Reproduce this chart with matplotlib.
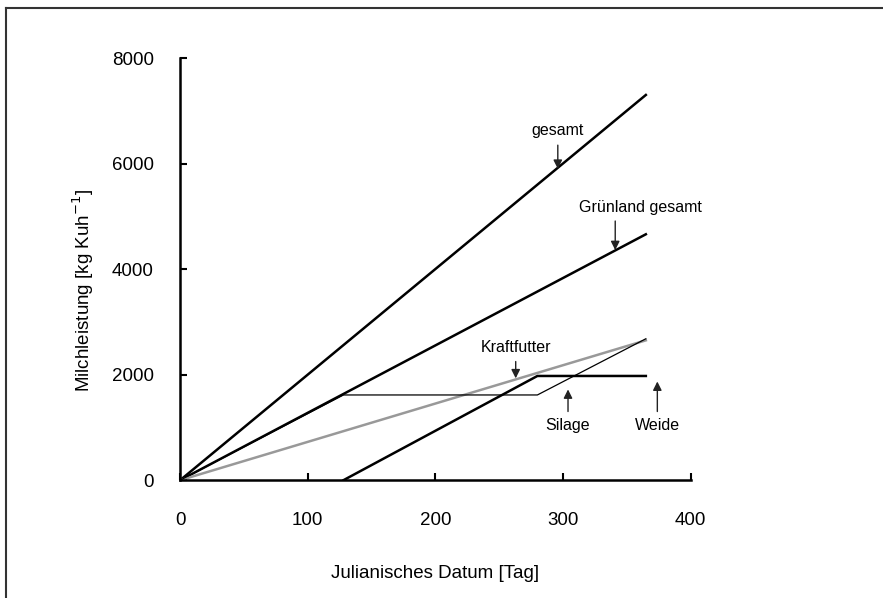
import matplotlib
matplotlib.use("Agg")
import matplotlib.pyplot as plt
from matplotlib.lines import Line2D

plt.rcParams["font.family"] = ["Liberation Sans", "DejaVu Sans"]

# cumulative milk yield (kg per cow) at day breakpoints
gesamt_x = [0, 365]
gesamt_y = [0, 7300]
gruenland_x = [0, 365]
gruenland_y = [0, 4660]
kraftfutter_x = [0, 365]
kraftfutter_y = [0, 2650]
weide_x = [128, 280, 365]
weide_y = [0, 1975, 1975]
silage_x = [0, 128, 280, 365]
silage_y = [0, 1615, 1615, 2680]

xticks = [0, 100, 200, 300, 400]
yticks = [0, 2000, 4000, 6000, 8000]

fig = plt.figure(figsize=(8.83, 5.98), dpi=100)
ax = fig.add_axes([0.204, 0.197, 0.578, 0.706])

ax.plot(gesamt_x, gesamt_y, color="black", lw=1.8)
ax.plot(gruenland_x, gruenland_y, color="black", lw=1.8)
ax.plot(kraftfutter_x, kraftfutter_y, color="#999999", lw=1.8)
ax.plot(weide_x, weide_y, color="black", lw=1.8)
ax.plot(silage_x, silage_y, color="black", lw=0.9)

ax.set_xlim(0, 400)
ax.set_ylim(0, 8000)
ax.set_xticks(xticks)
ax.set_yticks(yticks)
ax.tick_params(direction="in", length=5, width=1.5, labelsize=13.5)
ax.tick_params(axis="x", pad=23)
ax.tick_params(axis="y", pad=19)
for s in ["top", "right"]:
    ax.spines[s].set_visible(False)
for s in ["left", "bottom"]:
    ax.spines[s].set_linewidth(1.8)

ax.set_xlabel("Julianisches Datum [Tag]", fontsize=13.5, labelpad=26)
ax.set_ylabel("Milchleistung [kg Kuh$^{-1}$]", fontsize=13.5)
ax.yaxis.set_label_coords(-0.165, 0.45)

arrow = dict(arrowstyle="-|>", color="#222222", lw=1.0, mutation_scale=13,
             shrinkA=3, shrinkB=0)
ax.annotate("gesamt", xy=(296, 5900), xytext=(296, 6480), ha="center",
            va="bottom", fontsize=11.5, arrowprops=arrow)
# label sits right of its arrow, so draw them separately
ax.annotate("", xy=(341, 4360), xytext=(341, 4990), arrowprops=arrow)
ax.text(361, 5030, "Grünland gesamt", ha="center", va="bottom", fontsize=11.5)
ax.annotate("Kraftfutter", xy=(263, 1930), xytext=(263, 2380), ha="center",
            va="bottom", fontsize=11.5, arrowprops=arrow)
ax.annotate("Silage", xy=(304, 1720), xytext=(304, 1170), ha="center",
            va="top", fontsize=11.5, arrowprops=arrow)
ax.annotate("Weide", xy=(374, 1870), xytext=(374, 1170), ha="center",
            va="top", fontsize=11.5, arrowprops=arrow)

# page frame (left and top edges only)
fig.add_artist(Line2D([0.007, 0.007], [0, 0.987], color="#333333", lw=1.5))
fig.add_artist(Line2D([0.007, 1], [0.987, 0.987], color="#333333", lw=1.5))

fig.savefig("out.png", dpi=100)
